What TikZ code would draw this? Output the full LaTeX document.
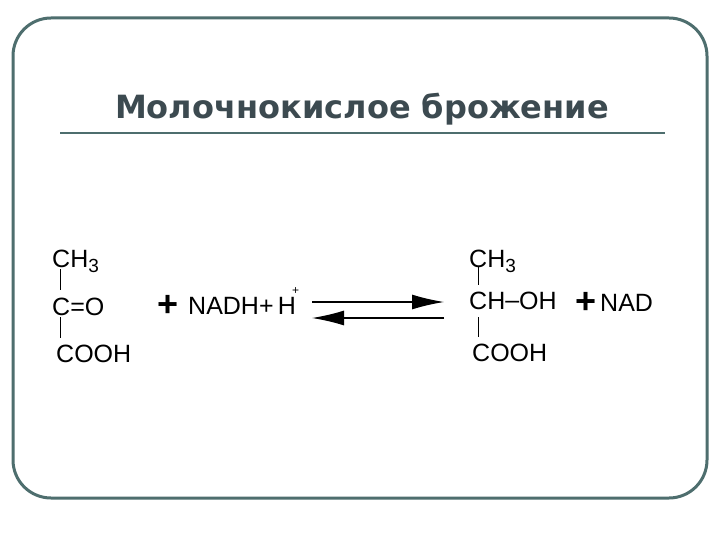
\documentclass[tikz,border=0pt]{standalone}
\usepackage{fontspec}
\setmainfont{Liberation Sans}
\newfontfamily\titlefont{DejaVu Sans}
\usetikzlibrary{arrows.meta}
\definecolor{frame}{HTML}{4E6E6E}
\definecolor{ttl}{HTML}{3C4A50}
\newcommand{\sbs}[1]{\raisebox{-5pt}{\fontsize{19}{20}\selectfont #1}}
\begin{document}
\begin{tikzpicture}[x=1pt,y=-1pt,
  chem/.style={anchor=base west,inner sep=0pt,font=\fontsize{25}{28}\selectfont},
  plus/.style={anchor=base west,inner sep=0pt,font=\fontsize{36}{38}\selectfont\bfseries},
  bond/.style={line width=1pt},
  rx/.style={line width=1.2pt,-{Latex[length=32pt,width=15pt]}}]
\useasboundingbox (0,0) rectangle (720,540);
\fill[white] (0,0) rectangle (720,540);
\draw[frame,line width=3pt,rounded corners=38pt] (13,18) rectangle (707,498);
\node[anchor=base,inner sep=0pt,text=ttl,font=\titlefont\bfseries\fontsize{32}{36}\selectfont] (title) at (362,119) {Молочнокислое брожение};
\draw[frame,line width=2.5pt] (60,133) coordinate (tl) -- (665,133) coordinate (tr);
% left
\node[chem] (a1) at (52,267) {CH\sbs{3}};
\node[chem] (a2) at (52,315) {C=O};
\node[chem] (a3) at (56,362) {COOH};
\draw[bond] (60,269) -- (60,290);
\draw[bond] (60,317) -- (60,338);
\node[plus] (p1) at (157,316) {+};
\node[chem] (n1) at (188,314) {NADH+\,H};
\node[anchor=base west,inner sep=0pt,font=\fontsize{12}{14}\selectfont] (hp) at (292,294) {+};
% arrows
\coordinate (f1) at (312,302); \coordinate (f2) at (444,302);
\coordinate (b1) at (444,318); \coordinate (b2) at (312,318);
\draw[rx] (f1) -- (f2);
\draw[rx] (b1) -- (b2);
% right
\node[chem] (b1n) at (469,267) {CH\sbs{3}};
\node[chem] (b2n) at (469,309) {CH\raisebox{1pt}{–}OH};
\node[chem] (b3n) at (472,361) {COOH};
\draw[bond] (478,266) -- (478,285);
\draw[bond] (478,317) -- (478,337);
\node[plus] (p2) at (575,313) {+};
\node[chem] (nad) at (600,311) {NAD};
\end{tikzpicture}
\end{document}
